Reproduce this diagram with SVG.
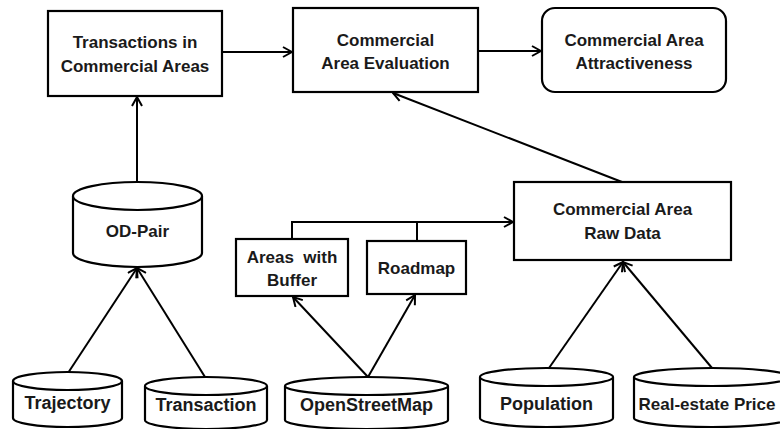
<svg xmlns="http://www.w3.org/2000/svg" width="780" height="429" viewBox="0 0 780 429">
<defs>
<marker id="arr" viewBox="0 0 12 12" refX="11" refY="6" markerWidth="12" markerHeight="12" markerUnits="userSpaceOnUse" orient="auto">
<path d="M2,1 L11,6 L2,11" fill="none" stroke="#000" stroke-width="2"/>
</marker>
<style>
.box{fill:#fff;stroke:#000;stroke-width:2.2}
.cyl{fill:#fff;stroke:#000;stroke-width:2.2}
.t{font-family:"Liberation Sans",Arial,sans-serif;font-weight:bold;font-size:17px;fill:#1a1a1a;text-anchor:middle;white-space:pre}
.b{font-size:18px}
.c{fill:none;stroke:#000;stroke-width:2}
</style>
</defs>
<rect width="780" height="429" fill="#fff"/>

<g id="connectors">
<line class="c" x1="222" y1="52" x2="292" y2="52" marker-end="url(#arr)"/>
<line class="c" x1="478" y1="51" x2="541" y2="51" marker-end="url(#arr)"/>
<line class="c" x1="622" y1="182" x2="393" y2="93" marker-end="url(#arr)"/>
<line class="c" x1="137" y1="182" x2="137" y2="97" marker-end="url(#arr)"/>
<polyline class="c" points="292,239 292,222 513,222" marker-end="url(#arr)"/>
<line class="c" x1="417" y1="222" x2="417" y2="241"/>
<line class="c" x1="68" y1="373" x2="137" y2="268" marker-end="url(#arr)"/>
<line class="c" x1="205" y1="377" x2="137" y2="268" marker-end="url(#arr)"/>
<line class="c" x1="368" y1="377" x2="293" y2="297" marker-end="url(#arr)"/>
<line class="c" x1="368" y1="377" x2="415" y2="295" marker-end="url(#arr)"/>
<line class="c" x1="549" y1="368" x2="623" y2="262" marker-end="url(#arr)"/>
<line class="c" x1="712" y1="368" x2="623" y2="262" marker-end="url(#arr)"/>
</g>

<g id="transactions-in-commercial-areas">
<rect class="box" x="48" y="11" width="174" height="85"/>
<text class="t" x="135" y="48">Transactions in</text>
<text class="t" x="135" y="72">Commercial Areas</text>
</g>

<g id="commercial-area-evaluation">
<rect class="box" x="293" y="8" width="185" height="84"/>
<text class="t" x="385.5" y="46">Commercial</text>
<text class="t" x="385.5" y="69">Area Evaluation</text>
</g>

<g id="commercial-area-attractiveness">
<rect class="box" x="542" y="8" width="184" height="84" rx="13" ry="13"/>
<text class="t" x="634" y="46">Commercial Area</text>
<text class="t" x="634" y="69">Attractiveness</text>
</g>

<g id="od-pair">
<path class="cyl" d="M73,196 L73,253 A64.5,14 0 0 0 202,253 L202,196"/>
<ellipse class="cyl" cx="137.5" cy="196" rx="64.5" ry="14"/>
<text class="t" x="137.5" y="237">OD-Pair</text>
</g>

<g id="areas-with-buffer">
<rect class="box" x="236" y="239" width="112" height="57"/>
<text class="t" x="292" y="263">Areas  with</text>
<text class="t" x="292" y="286">Buffer</text>
</g>

<g id="roadmap">
<rect class="box" x="367" y="241" width="99" height="53"/>
<text class="t" x="416.5" y="274">Roadmap</text>
</g>

<g id="commercial-area-raw-data">
<rect class="box" x="514" y="182" width="217" height="78"/>
<text class="t" x="622.5" y="215">Commercial Area</text>
<text class="t" x="622.5" y="239">Raw Data</text>
</g>

<g id="trajectory">
<path class="cyl" d="M13,381 L13,418 A54.5,9 0 0 0 122,418 L122,381"/>
<ellipse class="cyl" cx="67.5" cy="381" rx="54.5" ry="9"/>
<text class="t b" x="67.5" y="409">Trajectory</text>
</g>

<g id="transaction">
<path class="cyl" d="M145,386 L145,420 A61,9 0 0 0 267,420 L267,386"/>
<ellipse class="cyl" cx="206" cy="386" rx="61" ry="9"/>
<text class="t b" x="206" y="411">Transaction</text>
</g>

<g id="openstreetmap">
<path class="cyl" d="M285,386 L285,420 A81.5,9 0 0 0 448,420 L448,386"/>
<ellipse class="cyl" cx="366.5" cy="386" rx="81.5" ry="9"/>
<text class="t b" x="366.5" y="411">OpenStreetMap</text>
</g>

<g id="population">
<path class="cyl" d="M480,377 L480,418 A66.5,9 0 0 0 613,418 L613,377"/>
<ellipse class="cyl" cx="546.5" cy="377" rx="66.5" ry="9"/>
<text class="t b" x="546.5" y="410">Population</text>
</g>

<g id="real-estate-price">
<path class="cyl" d="M634,377 L634,418 A78,9 0 0 0 790,418 L790,377"/>
<ellipse class="cyl" cx="712" cy="377" rx="78" ry="9"/>
<text class="t" x="707" y="410">Real-estate Price</text>
</g>
</svg>
